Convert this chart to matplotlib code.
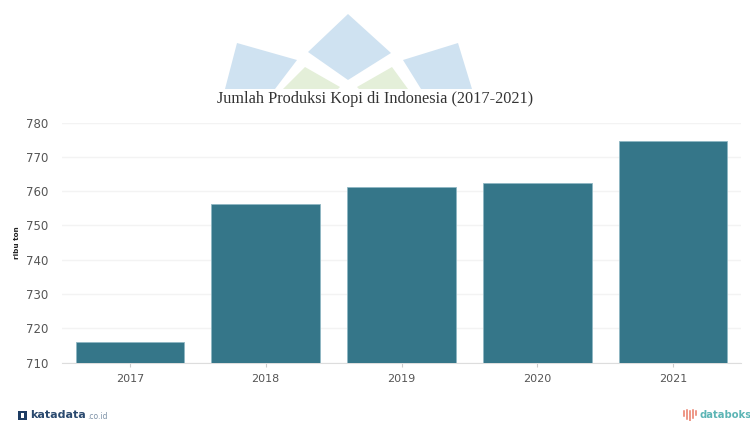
import matplotlib
matplotlib.use('Agg')
import matplotlib.pyplot as plt
from matplotlib.patches import Polygon, Rectangle

years = ['2017', '2018', '2019', '2020', '2021']
produksi = [716.1, 756.1, 761.1, 762.4, 774.7]
yticks = [710, 720, 730, 740, 750, 760, 770, 780]

W, H = 750, 421


def px_poly(fig, pts, color):
    # polygon given in pixels from the top left corner of the figure
    p = [(x / W, 1 - y / H) for x, y in pts]
    fig.add_artist(Polygon(p, closed=True, facecolor=color, edgecolor='none',
                           transform=fig.transFigure, zorder=0))


fig = plt.figure(figsize=(7.5, 4.21), dpi=100, facecolor='white')

# watermark behind the title
blue = '#cfe2f1'
green = '#e4efd9'
px_poly(fig, [(348, 14), (391, 53), (348, 80), (308, 52)], blue)
px_poly(fig, [(237, 43), (297, 60), (275, 89), (225, 89)], blue)
px_poly(fig, [(458, 43), (403, 60), (421, 89), (472, 89)], blue)
px_poly(fig, [(305, 67), (340, 87), (338, 89), (283, 89)], green)
px_poly(fig, [(392, 67), (357, 87), (359, 89), (408, 89)], green)

ax = fig.add_axes([62 / W, 1 - 362.5 / H, 679 / W, 240 / H])
ax.set_facecolor('none')
ax.bar(years, produksi, width=0.8, color='#357689', edgecolor='#8fb7c3',
       linewidth=0.6, zorder=3)
ax.set_xlim(-0.5, 4.5)
ax.set_ylim(710, 780)
ax.set_yticks(yticks)
ax.grid(axis='y', color='#f3f3f3', linewidth=1, zorder=0)
ax.set_axisbelow(True)
for s in ['top', 'right', 'left']:
    ax.spines[s].set_visible(False)
ax.spines['bottom'].set_color('#dddddd')
ax.tick_params(axis='y', length=0, pad=10, labelsize=8.5, labelcolor='#555555')
ax.tick_params(axis='x', length=3, color='#cccccc', pad=5, labelsize=8, labelcolor='#555555')

fig.text(17 / W, 1 - 243 / H, 'ribu ton', rotation=90, fontsize=5.2, fontweight='bold',
         color='#222222', ha='center', va='center')
fig.text(375 / W, 1 - 99 / H, 'Jumlah Produksi Kopi di Indonesia (2017-2021)',
         family='Liberation Serif', fontsize=11.7, color='#333333', ha='center', va='center')

# katadata mark, bottom left
fig.add_artist(Rectangle((18 / W, 1 - 420 / H), 9 / W, 9 / H, facecolor='#1d3c63',
                         edgecolor='none', transform=fig.transFigure))
fig.add_artist(Rectangle((21 / W, 1 - 418 / H), 3 / W, 5 / H, facecolor='white',
                         edgecolor='none', transform=fig.transFigure))
fig.text(30 / W, 1 - 415.5 / H, 'katadata', fontsize=8, fontweight='bold',
         color='#2b4a6f', ha='left', va='center')
fig.text(87 / W, 1 - 416.5 / H, '.co.id', fontsize=5.5, color='#7f93a8', ha='left', va='center')

# databoks mark, bottom right
for x, y0, y1 in [(684, 411, 416), (687, 410, 419), (690, 411, 421), (693, 410, 418), (696, 411, 415)]:
    fig.add_artist(plt.Line2D([x / W, x / W], [1 - y0 / H, 1 - y1 / H], color='#ea7a66',
                              linewidth=1.1, transform=fig.transFigure))
fig.text(699 / W, 1 - 415 / H, 'databoks', fontsize=7.2, fontweight='bold',
         color='#5cb5b5', ha='left', va='center')

fig.savefig('out.png', dpi=100)
